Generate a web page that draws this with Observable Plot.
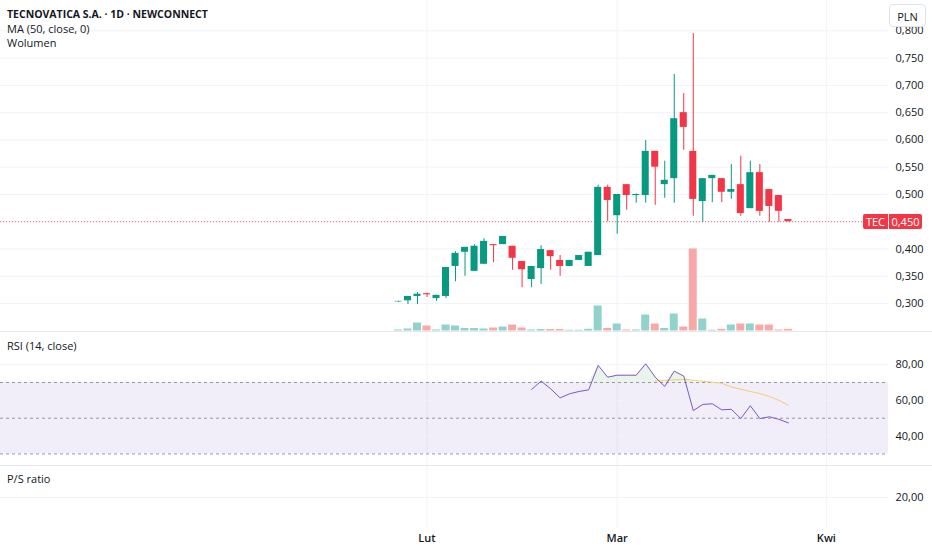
<!DOCTYPE html>
<html><head><meta charset="utf-8">
<script src="https://cdn.jsdelivr.net/npm/d3@7"></script>
<script src="https://cdn.jsdelivr.net/npm/@observablehq/plot@0.6"></script>
<style>
html,body{margin:0;padding:0;background:#fff;}
#root{position:relative;width:932px;height:550px;overflow:hidden;font-family:"Open Sans",sans-serif;color:#131722;}
.pane{position:absolute;left:0;}
.lbl{position:absolute;left:7px;font-size:11px;line-height:14px;white-space:nowrap;color:#131722;}
.sep{position:absolute;left:0;width:932px;height:1px;background:#e6e8ee;}
.tag{position:absolute;height:15px;line-height:15px;font-size:11px;color:#fff;background:#f23645;text-align:center;}
#pln{position:absolute;left:889px;top:4px;width:37px;height:23px;line-height:23px;border:1px solid #e0e3eb;border-radius:4px;background:#fff;font-size:11px;text-align:center;box-sizing:border-box;}
</style></head><body><div id="root"></div>
<script>
// ---- data (daily bars, index 0 = first bar) ----
const opens  = [0.303,0.305,0.313,0.318,0.309,0.313,0.368,0.394,0.359,0.372,0.408,0.408,0.405,0.377,0.344,0.364,0.397,0.379,0.368,0.379,0.368,0.388,0.513,0.461,0.518,0.498,0.498,0.579,0.518,0.529,0.650,0.579,0.487,0.529,0.529,0.504,0.518,0.474,0.540,0.509,0.498,0.454];
const highs  = [0.304,0.313,0.320,0.319,0.315,0.366,0.395,0.403,0.408,0.419,0.408,0.423,0.405,0.377,0.368,0.406,0.397,0.388,0.379,0.388,0.394,0.517,0.517,0.500,0.518,0.501,0.599,0.579,0.561,0.720,0.685,0.795,0.529,0.535,0.529,0.555,0.570,0.561,0.555,0.509,0.498,0.454];
const lows   = [0.302,0.298,0.298,0.311,0.304,0.309,0.340,0.350,0.359,0.372,0.375,0.408,0.361,0.329,0.329,0.335,0.361,0.350,0.368,0.379,0.368,0.388,0.450,0.427,0.471,0.484,0.484,0.480,0.493,0.484,0.581,0.460,0.449,0.485,0.485,0.491,0.460,0.474,0.460,0.449,0.449,0.450];
const closes = [0.304,0.313,0.317,0.316,0.315,0.366,0.392,0.403,0.405,0.414,0.406,0.423,0.383,0.362,0.368,0.399,0.386,0.368,0.379,0.388,0.394,0.513,0.489,0.500,0.498,0.500,0.579,0.550,0.526,0.639,0.623,0.491,0.529,0.535,0.504,0.509,0.465,0.540,0.469,0.478,0.469,0.450];
const volumes = [10,20,80,50,10,60,50,25,25,20,30,40,60,30,10,15,15,15,7,7,17,250,25,70,10,10,160,70,25,170,40,820,120,7,17,60,70,70,60,60,10,17];
// RSI(14) starts at bar 14, its MA(14) at bar 27
const rsiStart = 14;
const rsiValues = [66.1,70.8,66.5,61.4,63.7,65.0,65.9,79.6,73.0,74.1,74.1,74.1,80.5,73.0,67.8,76.4,73.6,54.3,57.7,58.1,54.7,55.0,49.8,57.0,49.8,50.8,49.4,47.4];
const maStart = 27;
const rsiMAValues = [70.8,71.2,71.5,71.7,71.3,70.7,70.2,69.6,67.5,66.2,65.0,63.8,62.2,60.0,57.3];
const rsiLevels = [70,50,30];
const rsiBand = [{lower:30, upper:70}];
const rsiTicks = [40,60,80];
const priceTicks = [0.30,0.35,0.40,0.45,0.50,0.55,0.60,0.65,0.70,0.75,0.80];
const psTicks = [20];
const monthLabels = ["Lut","Mar","Kwi"];
const monthIndex = [3,23,45];

// ---- view settings ----
const W = 932, MR = 44;
const xDomain = [-41.85, 51.53];
const priceDomain = [0.2487, 0.8557];
const rsiDomain = [23.5, 98.6];
const green = "#089981", red = "#f23645";
const FONT = "Open Sans, sans-serif";

const candles = opens.map((o,i)=>({i, open:o, high:highs[i], low:lows[i], close:closes[i], volume:volumes[i], col: closes[i]>=o ? green : red, vcol: closes[i]>=o ? "#92d2cc" : "#f7a9a7"}));
const rsiData = rsiValues.map((v,k)=>({i:rsiStart+k, v}));
const maData = rsiMAValues.map((v,k)=>({i:maStart+k, v}));
const months = monthIndex.map((i,k)=>({i, label:monthLabels[k]}));
const fmt = n => d => d.toFixed(n).replace(".", ",");
const style = {fontFamily:FONT, fontSize:"11px", color:"#131722", background:"transparent", overflow:"visible"};
const root = document.getElementById("root");
function place(el, top){ el.classList.add("pane"); el.style.top = top + "px"; root.appendChild(el); return el; }

// price pane
const last = closes[closes.length-1];
const axisPriceTicks = priceTicks.filter(t => Math.abs(t - last) > 1e-9); // last-price tag covers this one
const priceChart = Plot.plot({
  width: W, height: 331, marginTop: 0, marginBottom: 0, marginLeft: 0, marginRight: MR,
  style, color: {type: "identity"},
  x: {domain: xDomain, axis: null},
  y: {domain: priceDomain, axis: null},
  marks: [
    Plot.ruleY(priceTicks, {stroke: "#f0f3fa"}),
    Plot.ruleX(months, {x: "i", stroke: "#f0f3fa"}),
    Plot.axisY(axisPriceTicks, {anchor: "right", tickSize: 0, tickPadding: 7, tickFormat: fmt(3), label: null, fontSize: 11}),
    Plot.ruleY([last], {stroke: red, strokeDasharray: "1,2", strokeOpacity: 0.8})
  ]
});
place(priceChart, 0);

// volume overlay
const volChart = Plot.plot({
  width: W, height: 331, marginTop: 230.5, marginBottom: 0.5, marginLeft: 0, marginRight: MR,
  style, color: {type: "identity"},
  x: {domain: xDomain, axis: null},
  y: {domain: [0, 1000], axis: null},
  marks: [
    Plot.rect(candles, {x1: d => d.i - 0.42, x2: d => d.i + 0.42, y1: 0, y2: "volume", fill: "vcol"})
  ]
});
place(volChart, 0);

// candles overlay
const candleChart = Plot.plot({
  width: W, height: 331, marginTop: 0, marginBottom: 0, marginLeft: 0, marginRight: MR,
  style, color: {type: "identity"},
  x: {domain: xDomain, axis: null},
  y: {domain: priceDomain, axis: null},
  marks: [
    Plot.ruleX(candles, {x: "i", y1: "low", y2: "high", stroke: "col"}),
    Plot.rect(candles, {x1: d => d.i - 0.37, x2: d => d.i + 0.37, y1: "open", y2: "close", fill: "col"})
  ]
});
place(candleChart, 0);

// RSI pane
const rsiChart = Plot.plot({
  width: W, height: 134, marginTop: 0, marginBottom: 0, marginLeft: 0, marginRight: MR,
  style,
  x: {domain: xDomain, axis: null},
  y: {domain: rsiDomain, axis: null},
  marks: [
    Plot.ruleX(months, {x: "i", stroke: "#f0f3fa"}),
    Plot.rect(rsiBand, {x1: xDomain[0], x2: xDomain[1], y1: "lower", y2: "upper", fill: "#7e57c2", fillOpacity: 0.1}),
    Plot.ruleY(rsiTicks, {stroke: "#f0f3fa", strokeOpacity: 0.8}),
    Plot.ruleY(rsiLevels, {stroke: "#9598a1", strokeDasharray: "3,3"}),
    Plot.areaY(rsiData, {x: "i", y1: 70, y2: d => Math.max(70, d.v), fill: "#4caf50", fillOpacity: 0.12}),
    Plot.line(maData, {x: "i", y: "v", stroke: "#f7ca6e", strokeWidth: 1}),
    Plot.line(rsiData, {x: "i", y: "v", stroke: "#7e57c2", strokeWidth: 1}),
    Plot.axisY(rsiTicks, {anchor: "right", tickSize: 0, tickPadding: 7, tickFormat: fmt(2), label: null, fontSize: 11})
  ]
});
place(rsiChart, 331);

// P/S pane + time axis
const psChart = Plot.plot({
  width: W, height: 84, marginTop: 0, marginBottom: 22, marginLeft: 0, marginRight: MR,
  style,
  x: {domain: xDomain, axis: null},
  y: {domain: [15, 25], axis: null},
  marks: [
    Plot.ruleX(months, {x: "i", stroke: "#f0f3fa"}),
    Plot.ruleY(psTicks, {stroke: "#f0f3fa"}),
    Plot.axisY(psTicks, {anchor: "right", tickSize: 0, tickPadding: 7, tickFormat: fmt(2), label: null, fontSize: 11}),
    Plot.axisX(monthIndex, {anchor: "bottom", tickSize: 0, tickPadding: 6, tickFormat: (d) => monthLabels[monthIndex.indexOf(d)], label: null, fontSize: 11, fontWeight: 600})
  ]
});
place(psChart, 466);

// separators
[331, 465].forEach(t => { const s = document.createElement("div"); s.className = "sep"; s.style.top = t + "px"; root.appendChild(s); });

// legends
function label(text, top, bold){ const d = document.createElement("div"); d.className = "lbl"; d.textContent = text; d.style.top = top + "px"; if (bold) { d.style.fontWeight = "700"; d.style.fontSize = "10.5px"; } root.appendChild(d); }
label("TECNOVATICA S.A. · 1D · NEWCONNECT", 7, true);
label("MA (50, close, 0)", 22);
label("Wolumen", 36);
label("RSI (14, close)", 339);
label("P/S ratio", 472);

// last price tags
const yLast = candleChart.scale("y").apply(last);
const t1 = document.createElement("div"); t1.className = "tag"; t1.textContent = "TEC";
t1.style.left = "863px"; t1.style.width = "25px"; t1.style.top = (yLast - 7.5) + "px"; t1.style.borderRadius = "2px 0 0 2px"; root.appendChild(t1);
const t2 = document.createElement("div"); t2.className = "tag"; t2.textContent = fmt(3)(last);
t2.style.left = "889px"; t2.style.width = "33px"; t2.style.top = (yLast - 7.5) + "px"; t2.style.borderRadius = "0 2px 2px 0"; root.appendChild(t2);

const pln = document.createElement("div"); pln.id = "pln"; pln.textContent = "PLN"; root.appendChild(pln);
</script>
</body></html>
